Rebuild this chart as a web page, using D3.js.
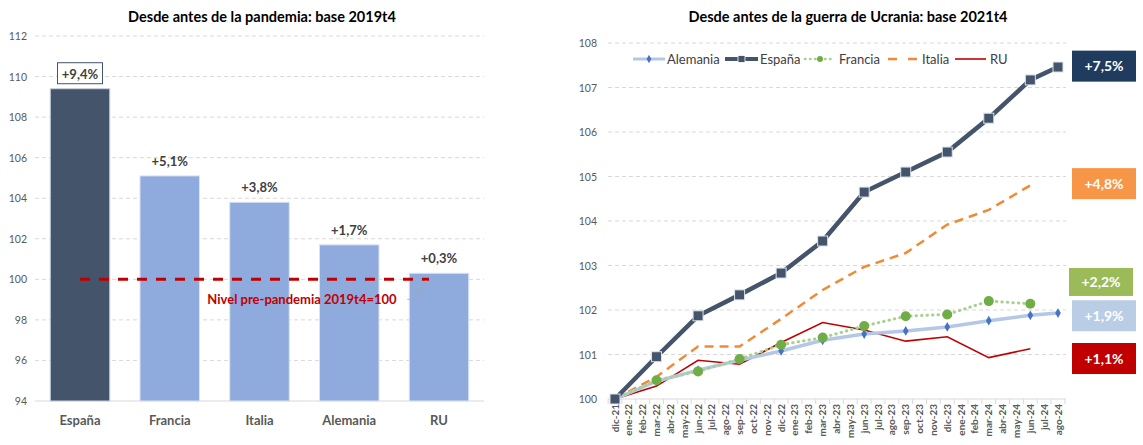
<!DOCTYPE html>
<html><head><meta charset="utf-8">
<script src="https://cdn.jsdelivr.net/npm/d3@7"></script>
<style>
body{margin:0;background:#fff;}
svg text{font-family:Lato,"Open Sans",sans-serif;}
</style></head>
<body>
<svg id="c" width="1143" height="445"></svg>
<script>
// ---- Left chart data
const barCategories = ["España","Francia","Italia","Alemania","RU"];
const barValues = [109.4, 105.1, 103.8, 101.7, 100.3];
const barLabels = ["+9,4%","+5,1%","+3,8%","+1,7%","+0,3%"];
const leftTicks = [94,96,98,100,102,104,106,108,110,112];

// ---- Right chart data
const months = ["dic-21","ene-22","feb-22","mar-22","abr-22","may-22","jun-22","jul-22","ago-22","sep-22","oct-22","nov-22",
  "dic-22","ene-23","feb-23","mar-23","abr-23","may-23","jun-23","jul-23","ago-23","sep-23","oct-23","nov-23",
  "dic-23","ene-24","feb-24","mar-24","abr-24","may-24","jun-24","jul-24","ago-24"];
const seriesMonths = ["dic-21","mar-22","jun-22","sep-22","dic-22","mar-23","jun-23","sep-23","dic-23","mar-24","jun-24","ago-24"];
const alemania = [100,100.4,100.65,100.87,101.08,101.32,101.46,101.53,101.62,101.76,101.88,101.93];
const espana   = [100,100.95,101.87,102.34,102.83,103.55,104.65,105.1,105.55,106.31,107.17,107.46];
const francia  = [100,100.42,100.62,100.9,101.22,101.38,101.64,101.86,101.9,102.2,102.14,null];
const italia   = [100,100.5,101.18,101.18,101.8,102.45,102.97,103.28,103.92,104.25,104.8,null];
const ru       = [100,100.29,100.87,100.78,101.27,101.72,101.55,101.3,101.4,100.93,101.13,null];
const rightTicks = [100,101,102,103,104,105,106,107,108];
// end-of-series labels; "at" is the axis value the label box is centred on (moved apart where they would collide)
const endLabelTexts = ["+7,5%","+4,8%","+2,2%","+1,9%","+1,1%"];
const endLabelAt = [107.48, 104.84, 102.63, 101.87, 100.91];

const svg = d3.select("#c");
const grey = "#595959";

// ================= LEFT CHART =================
const xL = d3.scaleBand().domain(barCategories).range([35,484]).paddingInner(0.337).paddingOuter(0.17);
const yL = d3.scaleLinear().domain([94,112]).range([401,36]);
const L = svg.append("g");

L.append("text").attr("x",262).attr("y",22).attr("text-anchor","middle")
  .attr("font-size",14.5).attr("font-weight","bold").attr("fill","#000")
  .text("Desde antes de la pandemia: base 2019t4");

L.selectAll(".gl").data(leftTicks.filter(t=>t!==94)).enter().append("line")
  .attr("x1",35).attr("x2",484).attr("y1",d=>yL(d)).attr("y2",d=>yL(d))
  .attr("stroke","#d9d9d9").attr("stroke-dasharray","4,3");
L.append("line").attr("x1",35).attr("x2",484).attr("y1",yL(94)).attr("y2",yL(94)).attr("stroke","#d9d9d9");

L.selectAll(".yt").data(leftTicks).enter().append("text")
  .attr("x",27).attr("y",d=>yL(d)+4).attr("text-anchor","end")
  .attr("font-size",10.5).attr("fill",grey).text(d=>d);

L.selectAll(".bar").data(barValues).enter().append("rect")
  .attr("x",(d,i)=>xL(barCategories[i])).attr("width",xL.bandwidth())
  .attr("y",d=>yL(d)).attr("height",d=>yL(94)-yL(d))
  .attr("fill",(d,i)=>i===0?"#44546A":"#8FAADC")
  .attr("stroke",(d,i)=>i===0?"#c9d2de":"#dae3f3").attr("stroke-width",1);

// label box for España
L.append("rect").attr("x",xL("España")+xL.bandwidth()/2-22.5).attr("y",yL(barValues[0])-26)
  .attr("width",45).attr("height",21).attr("fill","#fff").attr("stroke","#44546A").attr("stroke-width",1);

L.selectAll(".bl").data(barValues).enter().append("text")
  .attr("x",(d,i)=>xL(barCategories[i])+xL.bandwidth()/2)
  .attr("y",d=>yL(d)-10).attr("text-anchor","middle")
  .attr("font-size",13).attr("font-weight","bold").attr("fill","#404040")
  .text((d,i)=>barLabels[i]);

L.selectAll(".xl").data(barCategories).enter().append("text")
  .attr("x",d=>xL(d)+xL.bandwidth()/2).attr("y",425).attr("text-anchor","middle")
  .attr("font-size",13).attr("font-weight","bold").attr("fill",grey).text(d=>d);

// pre-pandemic reference line
L.append("line").attr("x1",xL("España")+xL.bandwidth()/2).attr("x2",xL("RU")+xL.bandwidth()/2-10)
  .attr("y1",yL(100)).attr("y2",yL(100)).attr("stroke","#C00000").attr("stroke-width",3)
  .attr("stroke-dasharray","10,9");
L.append("path").attr("d",`M${xL("RU")+xL.bandwidth()/2-13},${yL(100)+1} L${xL("RU")+4},${yL(100)+20} L${xL("RU")-2},${yL(100)+20}`)
  .attr("fill","none").attr("stroke","#a6a6a6").attr("stroke-width",0.8);
L.append("text").attr("x",302).attr("y",yL(100)+25).attr("text-anchor","middle")
  .attr("font-size",13).attr("font-weight","bold").attr("fill","#C00000")
  .text("Nivel pre-pandemia 2019t4=100");

// ================= RIGHT CHART =================
const xR = d3.scalePoint().domain(months).range([615,1058]);
const yR = d3.scaleLinear().domain([100,108]).range([399,43]);
const R = svg.append("g");
const step = xR.step();

R.append("text").attr("x",848).attr("y",22).attr("text-anchor","middle")
  .attr("font-size",14.5).attr("font-weight","bold").attr("fill","#000")
  .text("Desde antes de la guerra de Ucrania: base 2021t4");

R.selectAll(".gl").data(rightTicks.filter(t=>t!==100)).enter().append("line")
  .attr("x1",608).attr("x2",1066).attr("y1",d=>yR(d)).attr("y2",d=>yR(d))
  .attr("stroke","#d9d9d9").attr("stroke-dasharray","4,3");
R.append("line").attr("x1",608).attr("x2",1066).attr("y1",yR(100)).attr("y2",yR(100)).attr("stroke","#d9d9d9");

R.selectAll(".yt").data(rightTicks).enter().append("text")
  .attr("x",597).attr("y",d=>yR(d)+4).attr("text-anchor","end")
  .attr("font-size",10.5).attr("fill",grey).text(d=>d);

// x ticks and labels
R.selectAll(".xt").data(months.concat(["_end"])).enter().append("line")
  .attr("x1",(d,i)=>615-step/2+i*step).attr("x2",(d,i)=>615-step/2+i*step)
  .attr("y1",yR(100)).attr("y2",yR(100)+5).attr("stroke","#d9d9d9");
R.selectAll(".xl").data(months).enter().append("text")
  .attr("transform",d=>`translate(${xR(d)+3.5},${yR(100)+5}) rotate(-90)`)
  .attr("text-anchor","end").attr("font-size",10).attr("font-weight","bold").attr("fill",grey)
  .text(d=>d);

function pts(vals){ return vals.map((v,i)=>({m:seriesMonths[i],v})).filter(d=>d.v!==null); }
const line = d3.line().x(d=>xR(d.m)).y(d=>yR(d.v));

// RU
R.append("path").attr("d",line(pts(ru))).attr("fill","none").attr("stroke","#C00000").attr("stroke-width",1.6);
// Italia
R.append("path").attr("d",line(pts(italia))).attr("fill","none").attr("stroke","#F28A35").attr("stroke-width",2.5).attr("stroke-dasharray","9,6");
// Alemania
R.append("path").attr("d",line(pts(alemania))).attr("fill","none").attr("stroke","#B4C7E7").attr("stroke-width",3.5);
R.selectAll(".am").data(pts(alemania)).enter().append("path")
  .attr("d",d3.symbol(d3.symbolDiamond,28)).attr("transform",d=>`translate(${xR(d.m)},${yR(d.v)})`).attr("fill","#4472C4");
// Francia
R.append("path").attr("d",line(pts(francia))).attr("fill","none").attr("stroke","#A9D18E").attr("stroke-width",3)
  .attr("stroke-dasharray","0.5,5").attr("stroke-linecap","round");
R.selectAll(".fm").data(pts(francia)).enter().append("circle")
  .attr("cx",d=>xR(d.m)).attr("cy",d=>yR(d.v)).attr("r",5).attr("fill","#70AD47");
// España
R.append("path").attr("d",line(pts(espana))).attr("fill","none").attr("stroke","#44546A").attr("stroke-width",4.5);
R.selectAll(".em").data(pts(espana)).enter().append("rect")
  .attr("x",d=>xR(d.m)-5).attr("y",d=>yR(d.v)-5).attr("width",10).attr("height",10)
  .attr("fill","#44546A").attr("stroke","#dfe4ea").attr("stroke-width",1);

// end labels
const endColors = ["#1F3B5E","#F79646","#9BBB59","#B9CDE5","#C00000"];
const eg = R.selectAll(".el").data(endLabelTexts).enter().append("g");
eg.append("rect").attr("x",(d,i)=>i===2?1069:1072).attr("y",(d,i)=>yR(endLabelAt[i])-(i===2?14:15.5))
  .attr("width",64).attr("height",(d,i)=>i===2?28:31).attr("fill",(d,i)=>endColors[i]);
eg.append("text").attr("x",(d,i)=>(i===2?1069:1072)+32).attr("y",(d,i)=>yR(endLabelAt[i])+5)
  .attr("text-anchor","middle").attr("font-size",14).attr("font-weight","bold").attr("fill","#fff")
  .text(d=>d);

// legend
const legendNames = ["Alemania","España","Francia","Italia","RU"];
const ly = 59;
const lg = R.append("g");
lg.append("line").attr("x1",633).attr("x2",665).attr("y1",ly).attr("y2",ly).attr("stroke","#B4C7E7").attr("stroke-width",3);
lg.append("path").attr("d",d3.symbol(d3.symbolDiamond,20)).attr("transform",`translate(649,${ly})`).attr("fill","#4472C4");
lg.append("line").attr("x1",725).attr("x2",758).attr("y1",ly).attr("y2",ly).attr("stroke","#44546A").attr("stroke-width",4);
lg.append("rect").attr("x",738).attr("y",ly-3.5).attr("width",7).attr("height",7).attr("fill","#44546A").attr("stroke","#fff").attr("stroke-width",0.8);
lg.append("line").attr("x1",805).attr("x2",835).attr("y1",ly).attr("y2",ly).attr("stroke","#A9D18E").attr("stroke-width",2.5).attr("stroke-dasharray","0.5,4.5").attr("stroke-linecap","round");
lg.append("circle").attr("cx",820).attr("cy",ly).attr("r",3).attr("fill","#70AD47");
lg.append("line").attr("x1",888).attr("x2",917).attr("y1",ly).attr("y2",ly).attr("stroke","#F28A35").attr("stroke-width",2.5).attr("stroke-dasharray","9,11");
lg.append("line").attr("x1",955).attr("x2",986).attr("y1",ly).attr("y2",ly).attr("stroke","#C00000").attr("stroke-width",1.6);
const ltx = [667,760,839,922,990];
lg.selectAll(".lt").data(legendNames).enter().append("text")
  .attr("x",(d,i)=>ltx[i]).attr("y",ly+4.5).attr("font-size",13).attr("fill","#404040").text(d=>d);
</script>
</body></html>
